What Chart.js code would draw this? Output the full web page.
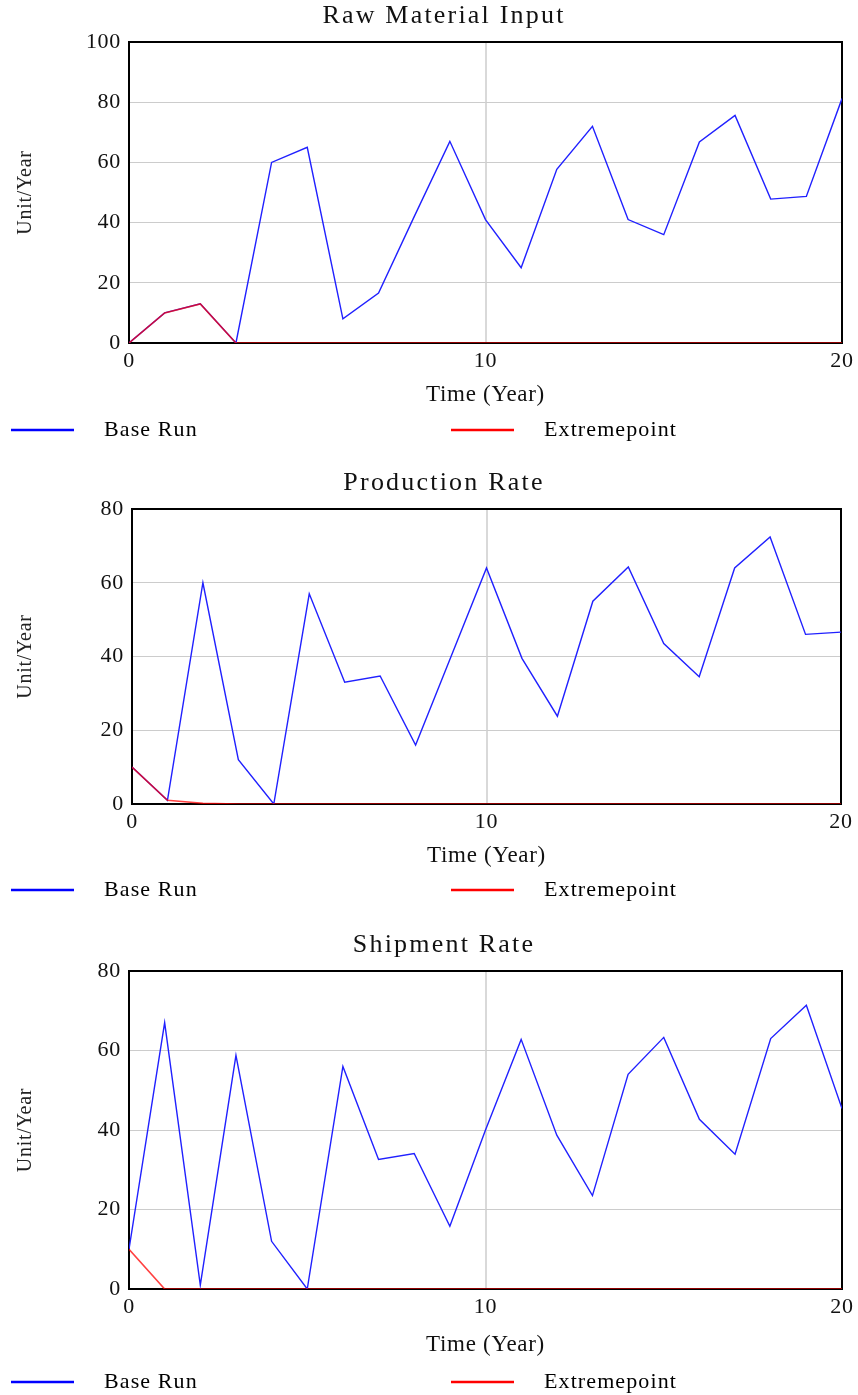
<!DOCTYPE html>
<html>
<head>
<meta charset="utf-8">
<script src="https://cdn.jsdelivr.net/npm/chart.js@4"></script>
<style>
html, body { margin: 0; padding: 0; background: #fff; }
body { width: 858px; height: 1395px; position: relative; overflow: hidden; }
.box { position: absolute; left: 0; width: 858px; }
</style>
</head>
<body>
<div class="box" id="box1"><canvas id="rawChart"></canvas></div>
<div class="box" id="box2"><canvas id="prodChart"></canvas></div>
<div class="box" id="box3"><canvas id="shipChart"></canvas></div>
<script>
// data
const years = [0, 1, 2, 3, 4, 5, 6, 7, 8, 9, 10, 11, 12, 13, 14, 15, 16, 17, 18, 19, 20];
const seriesNames = ['Base Run', 'Extremepoint'];
const chartTitles = ['Raw Material Input', 'Production Rate', 'Shipment Rate'];
const yUnit = 'Unit/Year';
const xUnit = 'Time (Year)';

const rawBase = [0, 10, 13, 0, 60, 65, 8, 16.6, 42, 67, 41, 25, 57.7, 72, 41, 36, 66.8, 75.6, 47.8, 48.7, 81.2];
const rawExtreme = [0, 10, 13, 0, 0, 0, 0, 0, 0, 0, 0, 0, 0, 0, 0, 0, 0, 0, 0, 0, 0];

const prodBase = [10, 1, 60, 12, 0, 57, 33, 34.7, 16, 40, 64, 39.5, 23.8, 55, 64.3, 43.5, 34.5, 64, 72.4, 46, 46.6];
const prodExtreme = [10, 1, 0.2, 0, 0, 0, 0, 0, 0, 0, 0, 0, 0, 0, 0, 0, 0, 0, 0, 0, 0];

const shipBase = [10, 67, 1, 58.8, 12, 0, 56, 32.6, 34.1, 15.8, 40, 62.8, 38.7, 23.5, 54, 63.3, 42.7, 33.9, 63, 71.4, 45.4];
const shipExtreme = [10, 0, 0, 0, 0, 0, 0, 0, 0, 0, 0, 0, 0, 0, 0, 0, 0, 0, 0, 0, 0];

const yMaxes = [100, 80, 80];

const serif = "'Liberation Serif', 'Times New Roman', serif";
const lineColors = ['#2020ff', 'rgba(255,0,0,0.75)'];
const keyColors = ['#0000ff', '#ff0000'];

// wider letter spacing like the original export, black box round the plot
const plotFrame = {
    id: 'plotFrame',
    beforeDraw(chart) {
        chart.ctx.letterSpacing = '0.7px';
    },
    beforeDatasetsDraw(chart) {
        const { ctx, chartArea: a } = chart;
        ctx.save();
        ctx.strokeStyle = '#000';
        ctx.lineWidth = 2;
        ctx.strokeRect(a.left, a.top, a.right - a.left, a.bottom - a.top);
        ctx.restore();
    }
};

// chart heading, a bit left of the plot centre
const heading = {
    id: 'heading',
    afterDraw(chart, args, opts) {
        const ctx = chart.ctx;
        ctx.save();
        ctx.letterSpacing = '2.2px';
        ctx.font = '26px ' + serif;
        ctx.fillStyle = '#111';
        ctx.textAlign = 'center';
        ctx.textBaseline = 'middle';
        ctx.fillText(opts.text, opts.x, chart.chartArea.top - opts.gap);
        ctx.restore();
    }
};

// legend under the x title, two items at fixed spots
const keyRow = {
    id: 'keyRow',
    afterDraw(chart, args, opts) {
        const ctx = chart.ctx;
        const y = chart.chartArea.bottom + opts.gap;
        ctx.save();
        ctx.letterSpacing = '1.1px';
        ctx.font = '22px ' + serif;
        ctx.textBaseline = 'middle';
        ctx.fillStyle = '#000';
        chart.data.datasets.forEach((ds, i) => {
            const x = opts.starts[i];
            ctx.strokeStyle = keyColors[i];
            ctx.lineWidth = 2.5;
            ctx.beginPath();
            ctx.moveTo(x, y);
            ctx.lineTo(x + 63, y);
            ctx.stroke();
            ctx.fillText(ds.label, x + 93, y);
        });
        ctx.restore();
    }
};

const panels = [
    { canvas: 'rawChart', box: 'box1', base: rawBase, extreme: rawExtreme, top: 0, height: 455,
      plot: { left: 129, right: 843, top: 42, bottom: 343 }, xTitleGap: 52, keyGap: 87 },
    { canvas: 'prodChart', box: 'box2', base: prodBase, extreme: prodExtreme, top: 460, height: 460,
      plot: { left: 132, right: 841, top: 49, bottom: 344 }, xTitleGap: 52, keyGap: 86 },
    { canvas: 'shipChart', box: 'box3', base: shipBase, extreme: shipExtreme, top: 920, height: 475,
      plot: { left: 129, right: 842, top: 51, bottom: 369 }, xTitleGap: 56, keyGap: 93 }
];

const xAxisHeight = 70;
const xTitleSize = 23;

panels.forEach((p, n) => {
    const box = document.getElementById(p.box);
    box.style.top = p.top + 'px';
    box.style.height = p.height + 'px';

    const ctx = document.getElementById(p.canvas).getContext('2d');
    new Chart(ctx, {
        type: 'line',
        data: {
            datasets: [{
                label: seriesNames[0],
                data: years.map((t, i) => ({ x: t, y: p.base[i] })),
                borderColor: lineColors[0],
                borderWidth: 1.4,
                pointRadius: 0,
                tension: 0,
                order: 2
            }, {
                label: seriesNames[1],
                data: years.map((t, i) => ({ x: t, y: p.extreme[i] })),
                borderColor: lineColors[1],
                borderWidth: 1.6,
                pointRadius: 0,
                tension: 0,
                order: 1
            }]
        },
        options: {
            responsive: true,
            maintainAspectRatio: false,
            animation: false,
            layout: {
                padding: {
                    left: 0,
                    top: p.plot.top,
                    right: 858 - p.plot.right,
                    bottom: p.height - p.plot.bottom - xAxisHeight
                }
            },
            scales: {
                x: {
                    type: 'linear',
                    min: 0,
                    max: 20,
                    border: { display: false },
                    grid: {
                        drawTicks: false,
                        lineWidth: 2,
                        color: (c) => c.tick && c.tick.value === 10 ? '#d9d9d9' : 'rgba(0,0,0,0)'
                    },
                    ticks: {
                        stepSize: 10,
                        padding: 5,
                        color: '#111',
                        font: { family: serif, size: 22 },
                        maxRotation: 0
                    },
                    title: {
                        display: true,
                        text: xUnit,
                        color: '#111',
                        font: { family: serif, size: xTitleSize },
                        padding: { top: 0, bottom: xAxisHeight - xTitleSize * 0.6 - p.xTitleGap }
                    },
                    afterFit: (scale) => { scale.height = xAxisHeight; }
                },
                y: {
                    min: 0,
                    max: yMaxes[n],
                    border: { display: false },
                    grid: {
                        drawTicks: false,
                        color: '#cccccc',
                        lineWidth: 1
                    },
                    ticks: {
                        stepSize: 20,
                        padding: 8,
                        color: '#111',
                        font: { family: serif, size: 22 }
                    },
                    title: {
                        display: true,
                        text: yUnit,
                        color: '#222',
                        font: { family: serif, size: 20 },
                        padding: { top: 14, bottom: 0 }
                    },
                    afterFit: (scale) => { scale.width = p.plot.left; }
                }
            },
            plugins: {
                legend: { display: false },
                tooltip: { enabled: false },
                title: { display: false },
                heading: { text: chartTitles[n], x: 444, gap: 26 },
                keyRow: { gap: p.keyGap, starts: [11, 451] }
            }
        },
        plugins: [plotFrame, heading, keyRow]
    });
});
</script>
</body>
</html>
